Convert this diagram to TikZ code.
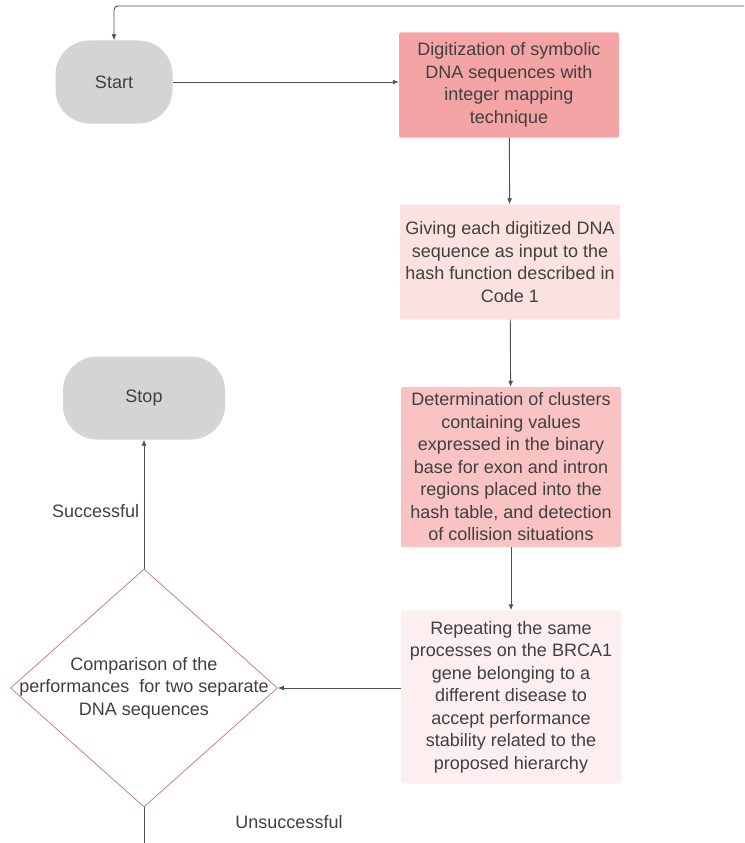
\documentclass[tikz,border=0pt]{standalone}
\usepackage{fontspec}
\setmainfont{Liberation Sans}
\usetikzlibrary{arrows.meta,shapes.geometric}
\definecolor{termgray}{HTML}{D3D4D6}
\definecolor{boxdark}{HTML}{F4A4A4}
\definecolor{boxmid}{HTML}{F9C3C3}
\definecolor{boxlight}{HTML}{FCE1E1}
\definecolor{boxpale}{HTML}{FDEFEF}
\definecolor{linegray}{HTML}{4B525C}
\definecolor{textgray}{HTML}{404040}
\definecolor{diaedge}{HTML}{C47474}
\tikzset{
    term/.style={fill=termgray,rounded corners=34pt,minimum width=#1,minimum height=83pt,text=textgray},
    procbox/.style={rounded corners=2pt,minimum width=220pt,align=center,text=textgray,inner sep=0pt},
    decision/.style={diamond,draw=diaedge,line width=0.7pt,fill=white,minimum width=267pt,minimum height=238pt,inner sep=0pt},
    flow/.style={-{Latex[length=6pt,width=5pt]},draw=linegray,line width=0.9pt},
    tag/.style={text=textgray}
}
\def\fsz{\fontsize{18pt}{22.5pt}\selectfont}

\begin{document}
\begin{tikzpicture}[x=1pt,y=-1pt,font=\fsz]
  \useasboundingbox (0,0) rectangle (744,843);

  % Terminals
  \node[term=117pt] at (114,82) (start) {Start};
  \node[term=162pt] at (144,398) (stop) {Stop};

  % Process boxes
  \node[procbox,fill=boxdark,minimum height=105pt] at (509,85) (digit)
    {Digitization of symbolic\\DNA sequences with\\integer mapping\\technique};
  \node[procbox,fill=boxlight,minimum height=115pt] at (510,262) (hashin)
    {Giving each digitized DNA\\sequence as input to the\\hash function described in\\Code 1};
  \node[procbox,fill=boxmid,minimum height=160pt] at (511,467) (clust)
    {Determination of clusters\\containing values\\expressed in the binary\\base for exon and intron\\regions placed into the\\hash table, and detection\\of collision situations};
  \node[procbox,fill=boxpale,minimum height=173pt] at (511,697) (repeat)
    {Repeating the same\\processes on the BRCA1\\gene belonging to a\\different disease to\\accept performance\\stability related to the\\proposed hierarchy};

  % Decision
  \node[decision] at (144,688) (compare) {};
  \node[align=center,text=textgray,inner sep=0pt] at (compare) (comparetxt)
    {Comparison of the\\performances\ \ for two separate\\DNA sequences};

  % Connectors
  \coordinate (loopin) at (744,6);
  \coordinate (loopout) at (144,843);
  \draw[flow,rounded corners=4pt] (loopin) -- (start.north |- loopin) -- (start.north);
  \draw[flow] (start.east) -- (start.east -| digit.west);
  \draw[flow] (digit) -- (hashin);
  \draw[flow] (hashin) -- (clust);
  \draw[flow] (clust) -- (repeat);
  \draw[flow] (repeat.west |- compare.east) -- (compare.east);
  \draw[flow] (compare.north) -- (stop.south) node[tag,pos=0.45,left=1pt] {Successful};
  \draw[draw=linegray,line width=0.9pt] (compare.south) -- (loopout);
  \node[tag] at (289,822) (fail) {Unsuccessful};
\end{tikzpicture}
\end{document}
